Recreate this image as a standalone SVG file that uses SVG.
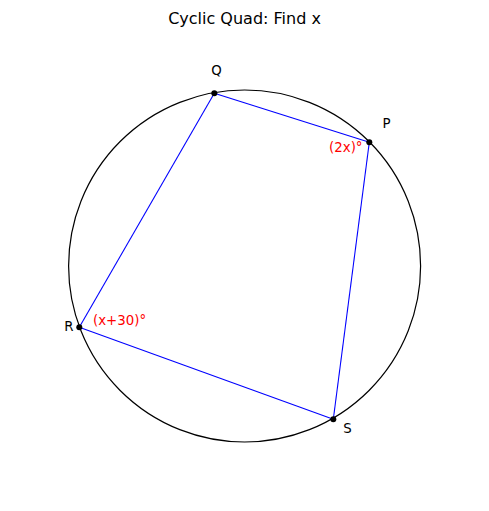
<svg xmlns="http://www.w3.org/2000/svg" width="489" height="511" viewBox="0 0 489 511">
<style>
text{font-family:"DejaVu Sans",sans-serif;font-size:13.33px;fill:#000}
.title{font-size:16px}
.ang{fill:#ff0000}
.edge{stroke:#0000ff;stroke-width:1.1;fill:none}
.pt{fill:#000}
</style>
<rect width="489" height="511" fill="#fff"/>
<text class="title" x="244.5" y="24" text-anchor="middle">Cyclic Quad: Find x</text>
<circle id="circle" cx="244.6" cy="266" r="176" fill="none" stroke="#000" stroke-width="1.2"/>
<g id="connectors">
<line class="edge" x1="214.3" y1="93.3" x2="369.3" y2="142.3"/>
<line class="edge" x1="369.3" y1="142.3" x2="333.3" y2="419.3"/>
<line class="edge" x1="333.3" y1="419.3" x2="79.3" y2="327.3"/>
<line class="edge" x1="79.3" y1="327.3" x2="214.3" y2="93.3"/>
</g>
<g id="Q"><circle class="pt" cx="214.3" cy="93.3" r="3"/><text x="216.5" y="75" text-anchor="middle">Q</text></g>
<g id="P"><circle class="pt" cx="369.3" cy="142.3" r="3"/><text x="386.5" y="128" text-anchor="middle">P</text><text class="ang" x="362.5" y="152" text-anchor="end">(2x)°</text></g>
<g id="R"><circle class="pt" cx="79.3" cy="327.3" r="3"/><text x="69" y="331" text-anchor="middle">R</text><text class="ang" x="93" y="325">(x+30)°</text></g>
<g id="S"><circle class="pt" cx="333.3" cy="419.3" r="3"/><text x="347.5" y="433" text-anchor="middle">S</text></g>
</svg>
